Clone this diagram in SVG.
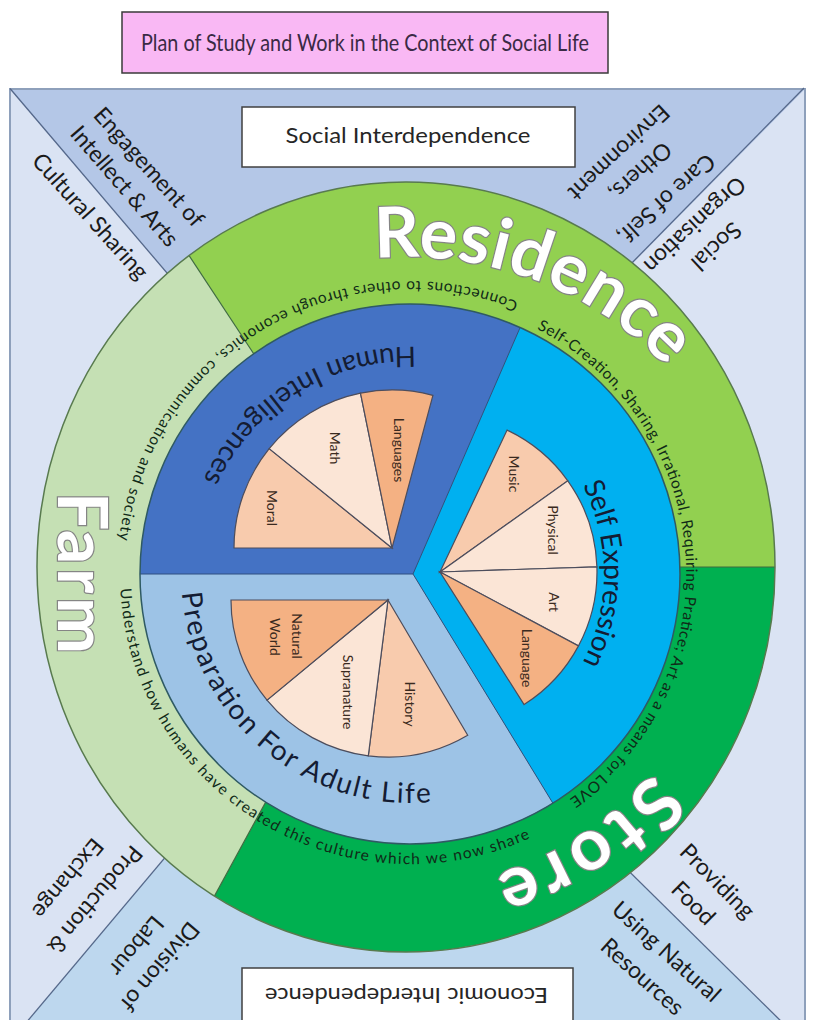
<svg xmlns="http://www.w3.org/2000/svg" width="813" height="1020" viewBox="0 0 813 1020">
<style>
 .corner{font-family:Lato,"Open Sans",sans-serif;font-size:23px;fill:#1a1a1a;text-anchor:middle;}
 .pie{stroke:#4d4d5c;stroke-width:1.2;}
 .o{fill:#f4b183}.lo{fill:#f8cbad}.p{fill:#fbe5d6}
 .pt{font-family:Lato,"Open Sans",sans-serif;font-size:14px;fill:#3a2a20;text-anchor:middle;}
 .big{font-family:Lato,"Open Sans",sans-serif;font-weight:bold;fill:#ffffff;stroke:#858585;stroke-width:2.4;paint-order:stroke;}
 .ring{font-family:Lato,"Open Sans",sans-serif;font-size:15.5px;fill:#102a18;}
 .sec{font-family:Lato,"Open Sans",sans-serif;font-size:28px;fill:#141c33;}
 .box{fill:#ffffff;stroke:#404040;stroke-width:1.5;}
 .div{stroke:#55688a;stroke-width:1.3;fill:none;}
 .rdiv{stroke:#3f6b3f;stroke-width:1.2;fill:none;}
 .idiv{stroke:#2f4f80;stroke-width:1;fill:none;}
</style>
<defs>
 <clipPath id="clipOuter"><ellipse cx="406" cy="567" rx="369" ry="385"/></clipPath>
 <clipPath id="clipInner"><circle cx="410" cy="574" r="270"/></clipPath>
 <path id="pHI" d="M516.6,373.6 A227,227 0 0 0 183.1,581.9"/>
 <path id="pSE" d="M507,406 A194,194 0 0 1 507,742"/>
 <path id="pPR" d="M194.8,495.7 A229,229 0 0 0 524.5,772.3"/>
 <path id="pT1" d="M631.8,382.6 A293,293 0 0 0 136.1,678"/>
 <path id="pT2" d="M439.1,299.5 A276,276 0 0 1 476.5,841.9"/>
 <path id="pT3" d="M139.8,468.6 A290,290 0 0 0 627.9,765.4"/>
 <path id="pRes" d="M159.8,353.2 A340,310 0 0 1 745.3,586.5"/>
 <path id="pSto" d="M725.5,549.7 A320,320 0 0 1 261.2,852.4"/>
</defs>

<g id="title">
 <rect x="122" y="12" width="486" height="61" fill="#f9b8f4" stroke="#3a3a3a" stroke-width="1.5"/>
 <text x="365" y="51" font-family="Lato, 'Open Sans', sans-serif" font-size="23" fill="#3a2a45" text-anchor="middle" textLength="448" lengthAdjust="spacingAndGlyphs">Plan of Study and Work in the Context of Social Life</text>
</g>

<g id="frame">
 <rect x="10" y="89" width="795" height="950" fill="#dae3f3"/>
 <polygon points="10,89 805,89 378,521" fill="#b4c7e7"/>
 <polygon points="369,615 790,1030 20,1030" fill="#bdd7ee"/>
 <rect x="10" y="89" width="795" height="950" fill="none" stroke="#8ea0bb" stroke-width="2"/>
</g>

<g id="dividers">
 <line class="div" x1="10" y1="88.5" x2="378" y2="521"/>
 <line class="div" x1="804" y1="88" x2="378" y2="521"/>
 <line class="div" x1="369" y1="615" x2="20" y2="1030"/>
 <line class="div" x1="369" y1="615" x2="790" y2="1030"/>
</g>

<g id="social-box">
 <rect class="box" x="242" y="107" width="333" height="60"/>
 <text x="408" y="143" font-family="Lato, 'Open Sans', sans-serif" font-size="22" fill="#262626" text-anchor="middle" textLength="245" lengthAdjust="spacingAndGlyphs">Social Interdependence</text>
</g>

<g id="economic-box">
 <rect class="box" x="242" y="968" width="331" height="70"/>
 <text transform="translate(406.5,996) rotate(180)" x="0" y="8" font-family="Lato, 'Open Sans', sans-serif" font-size="22" fill="#262626" text-anchor="middle" textLength="283" lengthAdjust="spacingAndGlyphs">Economic Interdependence</text>
</g>

<g id="corner-labels">
 <text class="corner" transform="translate(149,167) rotate(48)" y="8">Engagement of</text>
 <text class="corner" transform="translate(124.5,186) rotate(49)" y="8">Intellect &amp; Arts</text>
 <text class="corner" transform="translate(90.5,216) rotate(48)" y="8">Cultural Sharing</text>
 <text class="corner" transform="translate(666.5,199) rotate(138)" y="8">Care of Self,</text>
 <text class="corner" transform="translate(640.5,171.5) rotate(138)" y="8">Others,</text>
 <text class="corner" transform="translate(619,152.5) rotate(137)" y="8">Environment</text>
 <text class="corner" transform="translate(716.5,246.5) rotate(137)" y="8">Social</text>
 <text class="corner" transform="translate(695,225) rotate(137)" y="8">Organisation</text>
 <text class="corner" transform="translate(95,900) rotate(130)" y="8">Production &amp;</text>
 <text class="corner" transform="translate(68,878.5) rotate(130)" y="8">Exchange</text>
 <text class="corner" transform="translate(160,966.5) rotate(130)" y="8">Division of</text>
 <text class="corner" transform="translate(136.5,946) rotate(130)" y="8">Labour</text>
 <text class="corner" transform="translate(717.5,881) rotate(45)" y="8">Providing</text>
 <text class="corner" transform="translate(693.5,903) rotate(45)" y="8">Food</text>
 <text class="corner" transform="translate(666.5,951.5) rotate(42)" y="8">Using Natural</text>
 <text class="corner" transform="translate(642.5,976.5) rotate(42)" y="8">Resources</text>
</g>

<g id="outer-ring">
 <g clip-path="url(#clipOuter)">
  <polygon id="residence" points="394,567 -212,-354 1000,-354 1000,567" fill="#92d050"/>
  <polygon id="store" points="394,567 1000,567 1000,1551 -143,1551" fill="#00b050"/>
  <polygon id="farm" points="394,567 -143,1551 -600,567 -212,-354" fill="#c5e0b4"/>
  <line class="rdiv" x1="394" y1="567" x2="-212" y2="-354"/>
  <line class="rdiv" x1="394" y1="567" x2="1000" y2="567"/>
  <line class="rdiv" x1="394" y1="567" x2="-143" y2="1551"/>
 </g>
 <ellipse cx="406" cy="567" rx="369" ry="385" fill="none" stroke="#587a4e" stroke-width="1.5"/>
</g>

<g id="inner-circle">
 <g clip-path="url(#clipInner)">
  <polygon id="hi" points="413,574 -187,574 -187,-68 692,-68" fill="#4472c4"/>
  <polygon id="se" points="413,574 692,-68 1100,-68 1100,1172 778,1172" fill="#00b0f0"/>
  <polygon id="pr" points="413,574 778,1172 -187,1172 -187,574" fill="#9dc3e6"/>
  <line class="idiv" x1="413" y1="574" x2="-187" y2="574"/>
  <line class="idiv" x1="413" y1="574" x2="692" y2="-68"/>
  <line class="idiv" x1="413" y1="574" x2="778" y2="1172"/>
 </g>
 <circle cx="410" cy="574" r="270" fill="none" stroke="#2f5a63" stroke-width="1.5"/>
</g>

<g id="pie-human-intelligences">
 <path class="pie lo" d="M392,548 L234,548 A158,158 0 0 1 269.2,448.6 Z"/>
 <path class="pie p" d="M392,548 L269.2,448.6 A158,158 0 0 1 360.5,393.2 Z"/>
 <path class="pie o" d="M392,548 L360.5,393.2 A158,158 0 0 1 432.9,395.4 Z"/>
 <text class="pt" transform="translate(272,508) rotate(90)" y="5">Moral</text>
 <text class="pt" transform="translate(335,448) rotate(90)" y="5">Math</text>
 <text class="pt" transform="translate(399,450) rotate(90)" y="5">Languages</text>
</g>

<g id="pie-self-expression">
 <path class="pie lo" d="M440,572 L507.1,430.1 A157,157 0 0 1 567.8,480.8 Z"/>
 <path class="pie p" d="M440,572 L567.8,480.8 A157,157 0 0 1 596.9,566.8 Z"/>
 <path class="pie p" d="M440,572 L596.9,566.8 A157,157 0 0 1 578.5,645.9 Z"/>
 <path class="pie o" d="M440,572 L578.5,645.9 A157,157 0 0 1 524.1,704.6 Z"/>
 <text class="pt" transform="translate(514,474) rotate(90)" y="5">Music</text>
 <text class="pt" transform="translate(553,530) rotate(90)" y="5">Physical</text>
 <text class="pt" transform="translate(554,602) rotate(90)" y="5">Art</text>
 <text class="pt" transform="translate(527,658) rotate(90)" y="5">Language</text>
</g>

<g id="pie-preparation">
 <path class="pie lo" d="M388,600 L467.7,735.3 A157,157 0 0 1 368.3,755.8 Z"/>
 <path class="pie p" d="M388,600 L368.3,755.8 A157,157 0 0 1 267,700.1 Z"/>
 <path class="pie o" d="M388,600 L267,700.1 A157,157 0 0 1 231,600 Z"/>
 <text class="pt" transform="translate(296.5,636) rotate(90)" y="5">Natural</text>
 <text class="pt" transform="translate(275,637) rotate(90)" y="5">World</text>
 <text class="pt" transform="translate(348,692) rotate(90)" y="5">Supranature</text>
 <text class="pt" transform="translate(410,704) rotate(90)" y="5">History</text>
</g>

<g id="sector-labels">
 <text class="sec"><textPath href="#pHI" startOffset="50%" text-anchor="middle" textLength="265">Human Intelligences</textPath></text>
 <text class="sec"><textPath href="#pSE" startOffset="50%" text-anchor="middle" textLength="184">Self Expression</textPath></text>
 <text class="sec"><textPath href="#pPR" startOffset="50%" text-anchor="middle" textLength="362">Preparation For Adult Life</textPath></text>
</g>

<g id="ring-texts">
 <text class="ring"><textPath href="#pT1" startOffset="50%" text-anchor="middle" textLength="537">Connections to others through economics, communication and society</textPath></text>
 <text class="ring"><textPath href="#pT2" startOffset="50%" text-anchor="middle" textLength="566">Self-Creation, Sharing, Irrational, Requiring Pratice; Art as a means for LOVE</textPath></text>
 <text class="ring"><textPath href="#pT3" startOffset="50%" text-anchor="middle" textLength="565">Understand how humans have created this culture which we now share</textPath></text>
</g>

<g id="ring-labels">
 <text class="big" font-size="70"><textPath href="#pRes" startOffset="50%" text-anchor="middle" textLength="322">Residence</textPath></text>
 <text class="big" font-size="72"><textPath href="#pSto" startOffset="50%" text-anchor="middle" textLength="190">Store</textPath></text>
 <text class="big" font-size="68" transform="translate(58,492) rotate(90)" textLength="162" lengthAdjust="spacing">Farm</text>
</g>
</svg>
